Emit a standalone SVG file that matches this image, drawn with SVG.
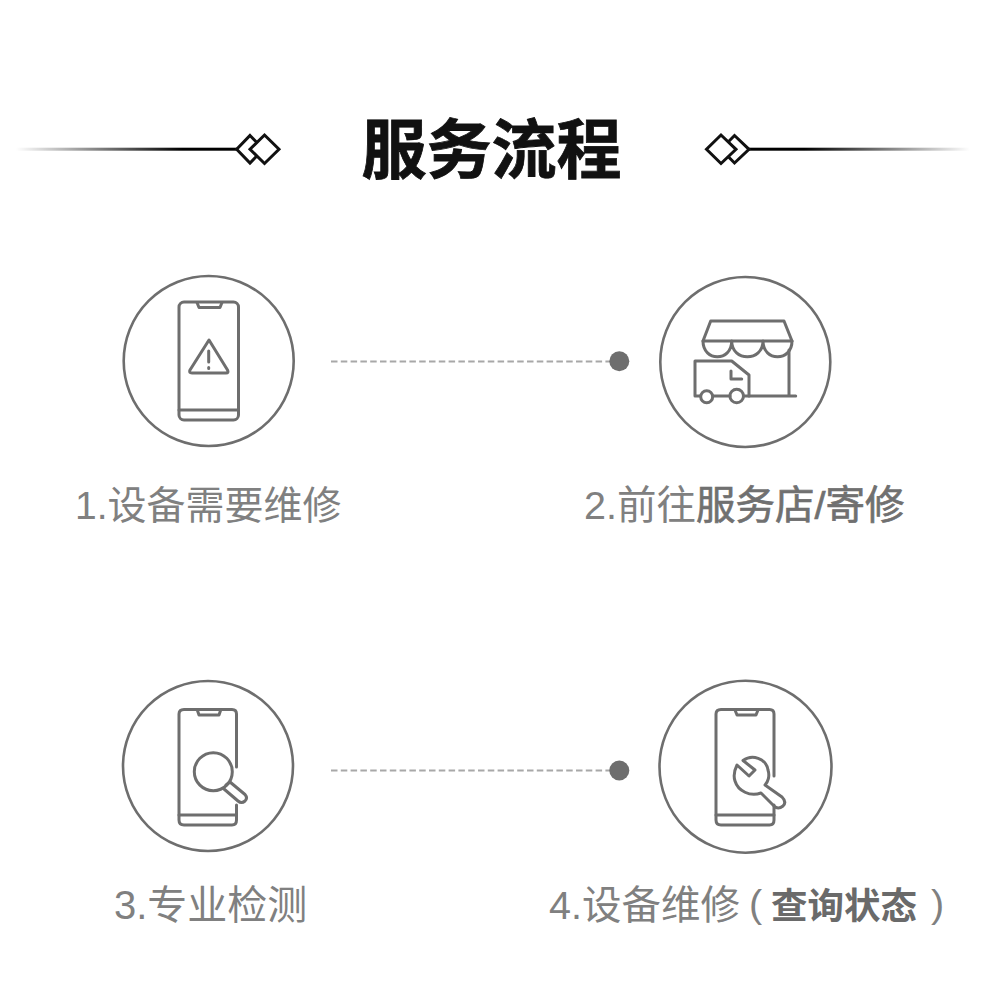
<svg xmlns="http://www.w3.org/2000/svg" width="989" height="989" viewBox="0 0 989 989">
<style>
.ring{fill:none;stroke:#6e6e6e;stroke-width:2.6}
.ic{fill:none;stroke:#6e6e6e;stroke-width:3;stroke-linejoin:round;stroke-linecap:round}
.dash{fill:none;stroke:#a8a8a8;stroke-width:2;stroke-dasharray:6.500 3.300}
.dot{fill:#6e6e6e}
.lb{font-family:"Liberation Sans","Noto Sans CJK SC",sans-serif;font-size:39.500px;fill:#808080}
.lb .m{fill:#707070;stroke:#707070;stroke-width:.7}
.lb .b{font-weight:700;font-size:36.500px;fill:#6a6a6a}
.t{font-family:"Noto Sans CJK SC",sans-serif;font-size:65px;font-weight:700;fill:#111;stroke:#111;stroke-width:.8}
.dm{fill:#fff;stroke:#111;stroke-width:3}
</style>
<defs>
<linearGradient id="gl" x1="0" x2="1" y1="0" y2="0"><stop offset="0" stop-color="#000" stop-opacity="0"/><stop offset="0.75" stop-color="#000"/></linearGradient>
<linearGradient id="gr" x1="1" x2="0" y1="0" y2="0"><stop offset="0" stop-color="#000" stop-opacity="0"/><stop offset="0.75" stop-color="#000"/></linearGradient>
</defs>
<rect width="989" height="989" fill="#fff"/>
<g id="title">
<rect x="16" y="147.700" width="222" height="3" fill="url(#gl)"/>
<path class="dm" d="M250 135.500L263.500 149.300L250 163L236.700 149.300Z"/>
<path class="dm" d="M264.500 135L279 149.300L264.500 163.500L250 149.300Z"/>
<rect x="749" y="147.700" width="221" height="3" fill="url(#gr)"/>
<path class="dm" d="M734.500 135.500L749 149.300L734.500 163L721 149.300Z"/>
<path class="dm" d="M721 135L736 149.300L721 163.500L706.500 149.300Z"/>
<text class="t" x="491.500" y="173" text-anchor="middle">服务流程</text>
</g>
<g id="connectors">
<line class="dash" x1="331" y1="361.500" x2="612" y2="361.500"/>
<circle class="dot" cx="619.300" cy="361.300" r="10"/>
<line class="dash" x1="331" y1="770.500" x2="612" y2="770.500"/>
<circle class="dot" cx="619.300" cy="770.500" r="10"/>
</g>
<g id="step1">
<circle class="ring" cx="208.700" cy="361" r="85"/>
<rect class="ic" x="179" y="302" width="59.500" height="118" rx="5"/>
<path class="ic" d="M179 410H238.500M197 302.500L199 307.500H220L222 302.500"/>
<path class="ic" d="M209 340L227.500 370Q229 373 226 373H192Q188.500 373 190 370Z"/>
<path class="ic" d="M208.700 351V362M208.700 367.500V368.500"/>
<text class="lb" x="75" y="519" style="font-size:39px">1.设备需要维修</text>
</g>
<g id="step2">
<circle class="ring" cx="745.300" cy="362" r="85"/>
<path class="ic" d="M710.700 321H784L792 341H703Z"/>
<path class="ic" d="M703 341C703 362 731.700 362 731.700 341C731.700 362 763 362 763 341C763 362 792 362 792 341"/>
<path class="ic" d="M789 350V396M749 396H795.700"/>
<path class="ic" d="M700.500 396H695V361H731.700L749 375V396H743.500M713 396H730M731 371V379H741.700"/>
<circle class="ic" cx="706.700" cy="396.700" r="6"/>
<circle class="ic" cx="736.700" cy="396" r="6.800"/>
<text class="lb" x="584" y="519">2.前往<tspan class="m">服务店/寄修</tspan></text>
</g>
<g id="step3">
<circle class="ring" cx="208" cy="766" r="85"/>
<path class="ic" d="M236.500 767V714Q236.500 709.500 232 709.500H184Q179 709.500 179 714V820Q179 825 184 825H232Q236.500 825 236.500 820V805"/>
<path class="ic" d="M179 815H236.500M197.300 710L199 715H219L220.700 710"/>
<circle class="ic" cx="213.300" cy="771.700" r="19"/>
<path class="ic" d="M226 785L230 782L245 794.500Q248 798 245 801Q241.500 804 238 801L224 789"/>
<text class="lb" x="114" y="919" style="font-size:40px">3.专业检测</text>
</g>
<g id="step4">
<circle class="ring" cx="745.500" cy="766.700" r="86"/>
<path class="ic" d="M774 776V714Q774 709.500 769.500 709.500H721Q716 709.500 716 714V820Q716 825 721 825H769.500Q774 825 774 820V805"/>
<path class="ic" d="M716 815H774M735 710L737 715H756L758 710"/>
<path class="ic" d="M743 760.500C752 754 766 758 768 770C770 776 768 782 765 785L782 797Q787 802 783 806Q778 810 774 806L761 793C750 797 738 791 735 781C733 775 734 771 737 765L749 776L755 770Z"/>
<text class="lb" x="549" y="919">4.设备维修<tspan x="749" y="917">(</tspan><tspan class="b" x="771" y="919">查询状态</tspan><tspan x="931" y="917">)</tspan></text>
</g>
</svg>
